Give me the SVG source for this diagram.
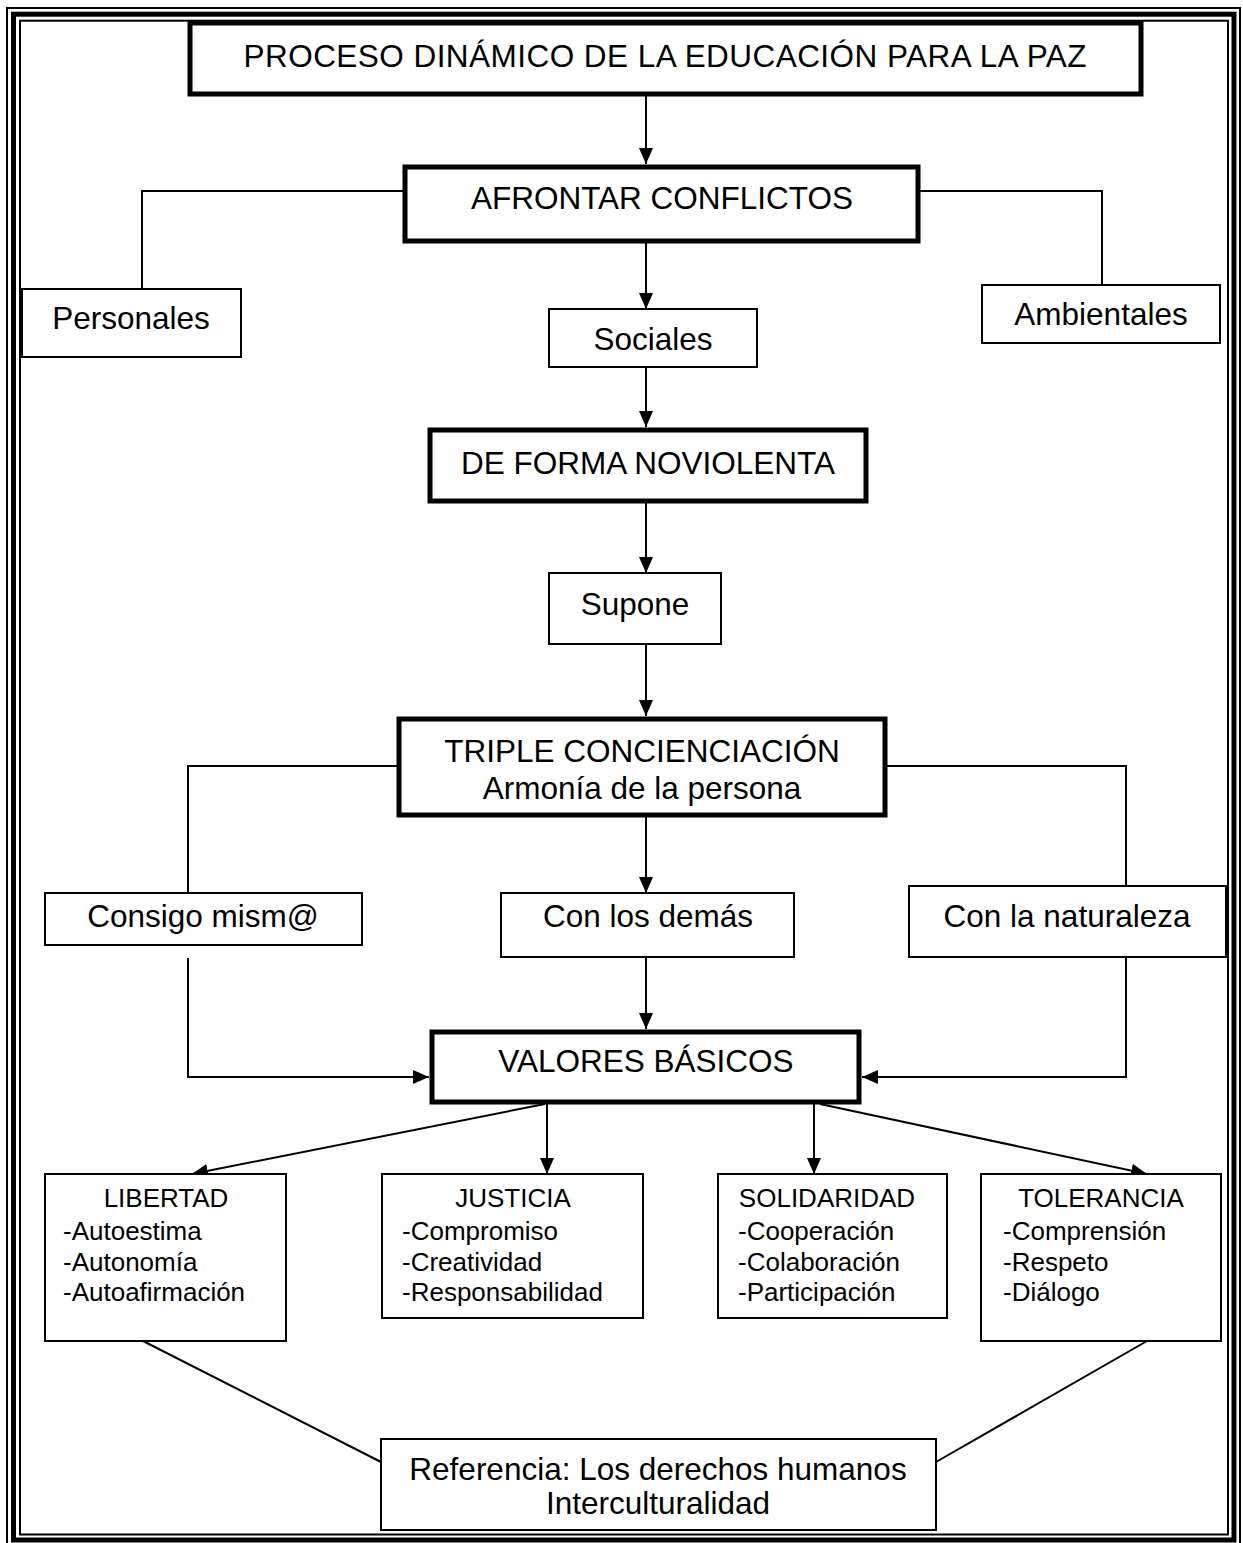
<svg xmlns="http://www.w3.org/2000/svg" width="1243" height="1543" viewBox="0 0 1243 1543">
  <style>
    .frame { fill: none; stroke: #000; }
    .box { fill: #fff; stroke: #000; stroke-width: 2; }
    .strong { fill: #fff; stroke: #000; stroke-width: 5; }
    .link { fill: none; stroke: #000; stroke-width: 2; }
    .t { font-family: "Liberation Sans", Arial, sans-serif; font-size: 31.5px; fill: #000; }
    .s { font-family: "Liberation Sans", Arial, sans-serif; font-size: 26px; fill: #000; }
    .c { text-anchor: middle; }
  </style>
  <defs>
    <marker id="arrow" markerUnits="userSpaceOnUse" markerWidth="17" markerHeight="14" refX="16" refY="7" orient="auto">
      <path d="M0,0 L16,7 L0,14 Z" fill="#000"/>
    </marker>
  </defs>
  <rect width="1243" height="1543" fill="#fff"/>

  <!-- triple page frame -->
  <g id="frame">
    <rect class="frame" x="7" y="8" width="1233" height="1538" stroke-width="2"/>
    <rect class="frame" x="13.5" y="14.2" width="1220.5" height="1525.8" stroke-width="5"/>
    <rect class="frame" x="20" y="20.7" width="1208" height="1513.8" stroke-width="2"/>
  </g>

  <!-- connectors -->
  <g id="connectors">
    <line class="link" x1="646" y1="96" x2="646" y2="164" marker-end="url(#arrow)"/>
    <polyline class="link" points="405,191 142,191 142,289"/>
    <polyline class="link" points="918,191 1102,191 1102,285"/>
    <line class="link" x1="646" y1="243" x2="646" y2="309" marker-end="url(#arrow)"/>
    <line class="link" x1="646" y1="358" x2="646" y2="427" marker-end="url(#arrow)"/>
    <line class="link" x1="646" y1="503" x2="646" y2="573" marker-end="url(#arrow)"/>
    <line class="link" x1="646" y1="644" x2="646" y2="716" marker-end="url(#arrow)"/>
    <polyline class="link" points="399,766 188,766 188,893"/>
    <polyline class="link" points="885,766 1126,766 1126,886"/>
    <line class="link" x1="646" y1="817" x2="646" y2="893" marker-end="url(#arrow)"/>
    <polyline class="link" points="188,958 188,1077 429,1077" marker-end="url(#arrow)"/>
    <polyline class="link" points="1126,958 1126,1077 862,1077" marker-end="url(#arrow)"/>
    <line class="link" x1="646" y1="957" x2="646" y2="1029" marker-end="url(#arrow)"/>
    <line class="link" x1="545" y1="1104" x2="192" y2="1174" marker-end="url(#arrow)"/>
    <line class="link" x1="547" y1="1104" x2="547" y2="1174" marker-end="url(#arrow)"/>
    <line class="link" x1="814" y1="1104" x2="814" y2="1174" marker-end="url(#arrow)"/>
    <line class="link" x1="820" y1="1104" x2="1147" y2="1174" marker-end="url(#arrow)"/>
    <line class="link" x1="143" y1="1341" x2="381" y2="1462"/>
    <line class="link" x1="1147" y1="1341" x2="936" y2="1462"/>
  </g>

  <g id="proceso">
    <rect class="strong" x="190" y="23" width="951" height="71"/>
    <text class="t c" x="665" y="67" textLength="843" lengthAdjust="spacing">PROCESO DINÁMICO DE LA EDUCACIÓN PARA LA PAZ</text>
  </g>
  <g id="afrontar">
    <rect class="strong" x="405" y="167" width="513" height="74"/>
    <text class="t c" x="662" y="209">AFRONTAR CONFLICTOS</text>
  </g>
  <g id="personales">
    <rect class="box" x="22" y="289" width="219" height="68"/>
    <text class="t c" x="131" y="329">Personales</text>
  </g>
  <g id="sociales">
    <rect class="box" x="549" y="309" width="208" height="58"/>
    <text class="t c" x="653" y="350">Sociales</text>
  </g>
  <g id="ambientales">
    <rect class="box" x="982" y="285" width="238" height="58"/>
    <text class="t c" x="1101" y="325">Ambientales</text>
  </g>
  <g id="noviolenta">
    <rect class="strong" x="430" y="430" width="436" height="71"/>
    <text class="t c" x="648" y="474">DE FORMA NOVIOLENTA</text>
  </g>
  <g id="supone">
    <rect class="box" x="549" y="573" width="172" height="71"/>
    <text class="t c" x="635" y="615">Supone</text>
  </g>
  <g id="triple">
    <rect class="strong" x="399" y="719" width="486" height="96"/>
    <text class="t c" x="642" y="762">TRIPLE CONCIENCIACIÓN</text>
    <text class="t c" x="642" y="799">Armonía de la persona</text>
  </g>
  <g id="consigo">
    <rect class="box" x="45" y="893" width="317" height="52"/>
    <text class="t c" x="203" y="927">Consigo mism@</text>
  </g>
  <g id="demas">
    <rect class="box" x="501" y="893" width="293" height="64"/>
    <text class="t c" x="648" y="927">Con los demás</text>
  </g>
  <g id="naturaleza">
    <rect class="box" x="909" y="886" width="317" height="71"/>
    <text class="t c" x="1067" y="927">Con la naturaleza</text>
  </g>
  <g id="valores">
    <rect class="strong" x="432" y="1032" width="427" height="70"/>
    <text class="t c" x="646" y="1072">VALORES BÁSICOS</text>
  </g>
  <g id="libertad">
    <rect class="box" x="45" y="1174" width="241" height="167"/>
    <text class="s c" x="166" y="1207">LIBERTAD</text>
    <text class="s" x="63" y="1240">-Autoestima</text>
    <text class="s" x="63" y="1271">-Autonomía</text>
    <text class="s" x="63" y="1301">-Autoafirmación</text>
  </g>
  <g id="justicia">
    <rect class="box" x="382" y="1174" width="261" height="144"/>
    <text class="s c" x="513" y="1207">JUSTICIA</text>
    <text class="s" x="402" y="1240">-Compromiso</text>
    <text class="s" x="402" y="1271">-Creatividad</text>
    <text class="s" x="402" y="1301">-Responsabilidad</text>
  </g>
  <g id="solidaridad">
    <rect class="box" x="718" y="1174" width="229" height="144"/>
    <text class="s c" x="827" y="1207">SOLIDARIDAD</text>
    <text class="s" x="738" y="1240">-Cooperación</text>
    <text class="s" x="738" y="1271">-Colaboración</text>
    <text class="s" x="738" y="1301">-Participación</text>
  </g>
  <g id="tolerancia">
    <rect class="box" x="981" y="1174" width="240" height="167"/>
    <text class="s c" x="1101" y="1207">TOLERANCIA</text>
    <text class="s" x="1003" y="1240">-Comprensión</text>
    <text class="s" x="1003" y="1271">-Respeto</text>
    <text class="s" x="1003" y="1301">-Diálogo</text>
  </g>
  <g id="referencia">
    <rect class="box" x="381" y="1439" width="555" height="91"/>
    <text class="t c" x="658" y="1480">Referencia: Los derechos humanos</text>
    <text class="t c" x="658" y="1514">Interculturalidad</text>
  </g>
</svg>
